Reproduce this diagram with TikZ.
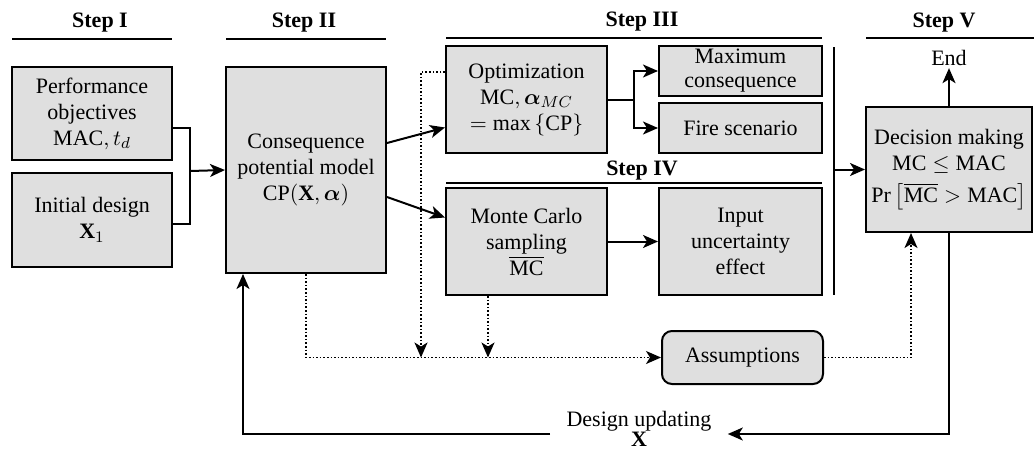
\documentclass[tikz,border=0pt]{standalone}
\usepackage{amsmath,amssymb}
\usepackage{fontspec}
\setmainfont{Liberation Serif}
\usetikzlibrary{arrows.meta,calc}
\definecolor{boxgray}{gray}{0.875}
\begin{document}
\begin{tikzpicture}[x=0.5pt,y=-0.5pt,
  font=\fontsize{11}{13}\selectfont,
  box/.style={draw, line width=1pt, fill=boxgray, align=center, inner sep=1pt},
  conn/.style={line width=1pt},
  arr/.style={conn, -{Stealth[length=7.5pt,width=6.5pt,inset=2pt]}},
  dots/.style={line width=0.8pt, densely dotted},
  darr/.style={dots, -{Stealth[length=7.5pt,width=6.5pt,inset=2pt]}},
  head/.style={font=\fontsize{11}{13}\selectfont\bfseries},
  rule/.style={line width=1pt}]
\useasboundingbox (0,0) rectangle (1034,450);

% headings
\node[head] (h1) at (100,23) {Step I};
\draw[rule] (12,39) -- (172,39);
\node[head] (h2) at (304,23) {Step II};
\draw[rule] (226,39) -- (386,39);
\node[head] (h3) at (642,22) {Step III};
\draw[rule] (446,38) -- (822,38);
\node[head] (h4) at (642,171) {Step IV};
\draw[rule] (446,183) -- (822,183);
\node[head] (h5) at (944,23) {Step V};
\draw[rule] (866,38) -- (1034,38);

% boxes
\node[box, minimum width=80pt, minimum height=46.5pt] (perf) at (92,113.5)
  {Performance\\objectives\\$\mathrm{MAC}, t_d$};
\node[box, minimum width=80pt, minimum height=47pt] (init) at (92,220)
  {Initial design\\$\mathbf{X}_1$};
\node[box, minimum width=80pt, minimum height=103pt] (cp) at (306,170)
  {Consequence\\potential model\\$\mathrm{CP}(\mathbf{X},\boldsymbol{\alpha})$};
\node[box, minimum width=80.5pt, minimum height=53.5pt] (opt) at (526.5,99.5)
  {Optimization\\$\mathrm{MC},\boldsymbol{\alpha}_{MC}$\\$=\max\left\{\mathrm{CP}\right\}$};
\node[box, minimum width=81.5pt, minimum height=25pt, inner ysep=0pt,
  font=\fontsize{11}{12}\selectfont] (maxc) at (740.5,71)
  {Maximum\\consequence};
\node[box, minimum width=81.5pt, minimum height=25pt] (fire) at (740.5,128)
  {Fire scenario};
\node[box, minimum width=80.5pt, minimum height=53.5pt] (mc) at (526.5,241.5)
  {Monte Carlo\\sampling\\$\overline{\mathrm{MC}}$};
\node[box, minimum width=81.5pt, minimum height=53.5pt] (inp) at (740.5,241.5)
  {Input\\uncertainty\\effect};
\node[box, minimum width=83pt, minimum height=62.5pt, inner xsep=0pt] (dec) at (949,169.5)
  {Decision making\\$\mathrm{MC}\leq\mathrm{MAC}$\\[3pt]$\Pr\left[\overline{\mathrm{MC}}>\mathrm{MAC}\right]$};
\node[box, rounded corners=5pt, minimum width=80.5pt, minimum height=26.5pt] (assum) at (742.5,357.5)
  {Assumptions};
\node[inner sep=1pt] (end) at (949,58) {End};
\node[align=center, inner xsep=8pt, inner ysep=0pt] (des) at (639,429)
  {Design updating\\[-3pt]$\mathbf{X}$};

% solid connectors
\coordinate (bj) at (190,171);
\draw[conn] ([yshift=-7pt]perf.east) -| (bj) |- ([yshift=-2pt]init.east);
\draw[arr] (bj) -- (cp.west);
\draw[arr] ([yshift=13.5pt]cp.east) -- ([yshift=-14pt]opt.west);
\draw[arr] ([yshift=-13.5pt]cp.east) -- ([yshift=12pt]mc.west);
\coordinate (oj) at (634,99.5);
\draw[conn] (opt.east) -- (oj);
\draw[arr] (oj) |- (maxc.west);
\draw[arr] (oj) |- (fire.west);
\draw[arr] (mc.east) -- (inp.west);
\coordinate (vt) at (834,47);
\coordinate (vb) at (834,295);
\coordinate (vm) at (834,169.5);
\draw[conn] (vt) -- (vb);
\draw[arr] (vm) -- (dec.west);
\draw[arr] (dec.north) -- (end.south);
\draw[arr] (dec.south) |- ([yshift=-2.5pt]des.east);
\draw[arr] ([yshift=-2.5pt]des.west) -| ([xshift=-31.5pt]cp.south);

% dotted connectors
\coordinate (dl) at (421,357.5);
\coordinate (ml) at (488,357.5);
\draw[darr] (cp.south) |- (assum.west);
\draw[darr] ([yshift=13.75pt]opt.west) -| (dl);
\draw[darr] ([xshift=-19.25pt]mc.south) -- (ml);
\draw[darr] (assum.east) -| ([xshift=-19pt]dec.south);
\end{tikzpicture}
\end{document}
